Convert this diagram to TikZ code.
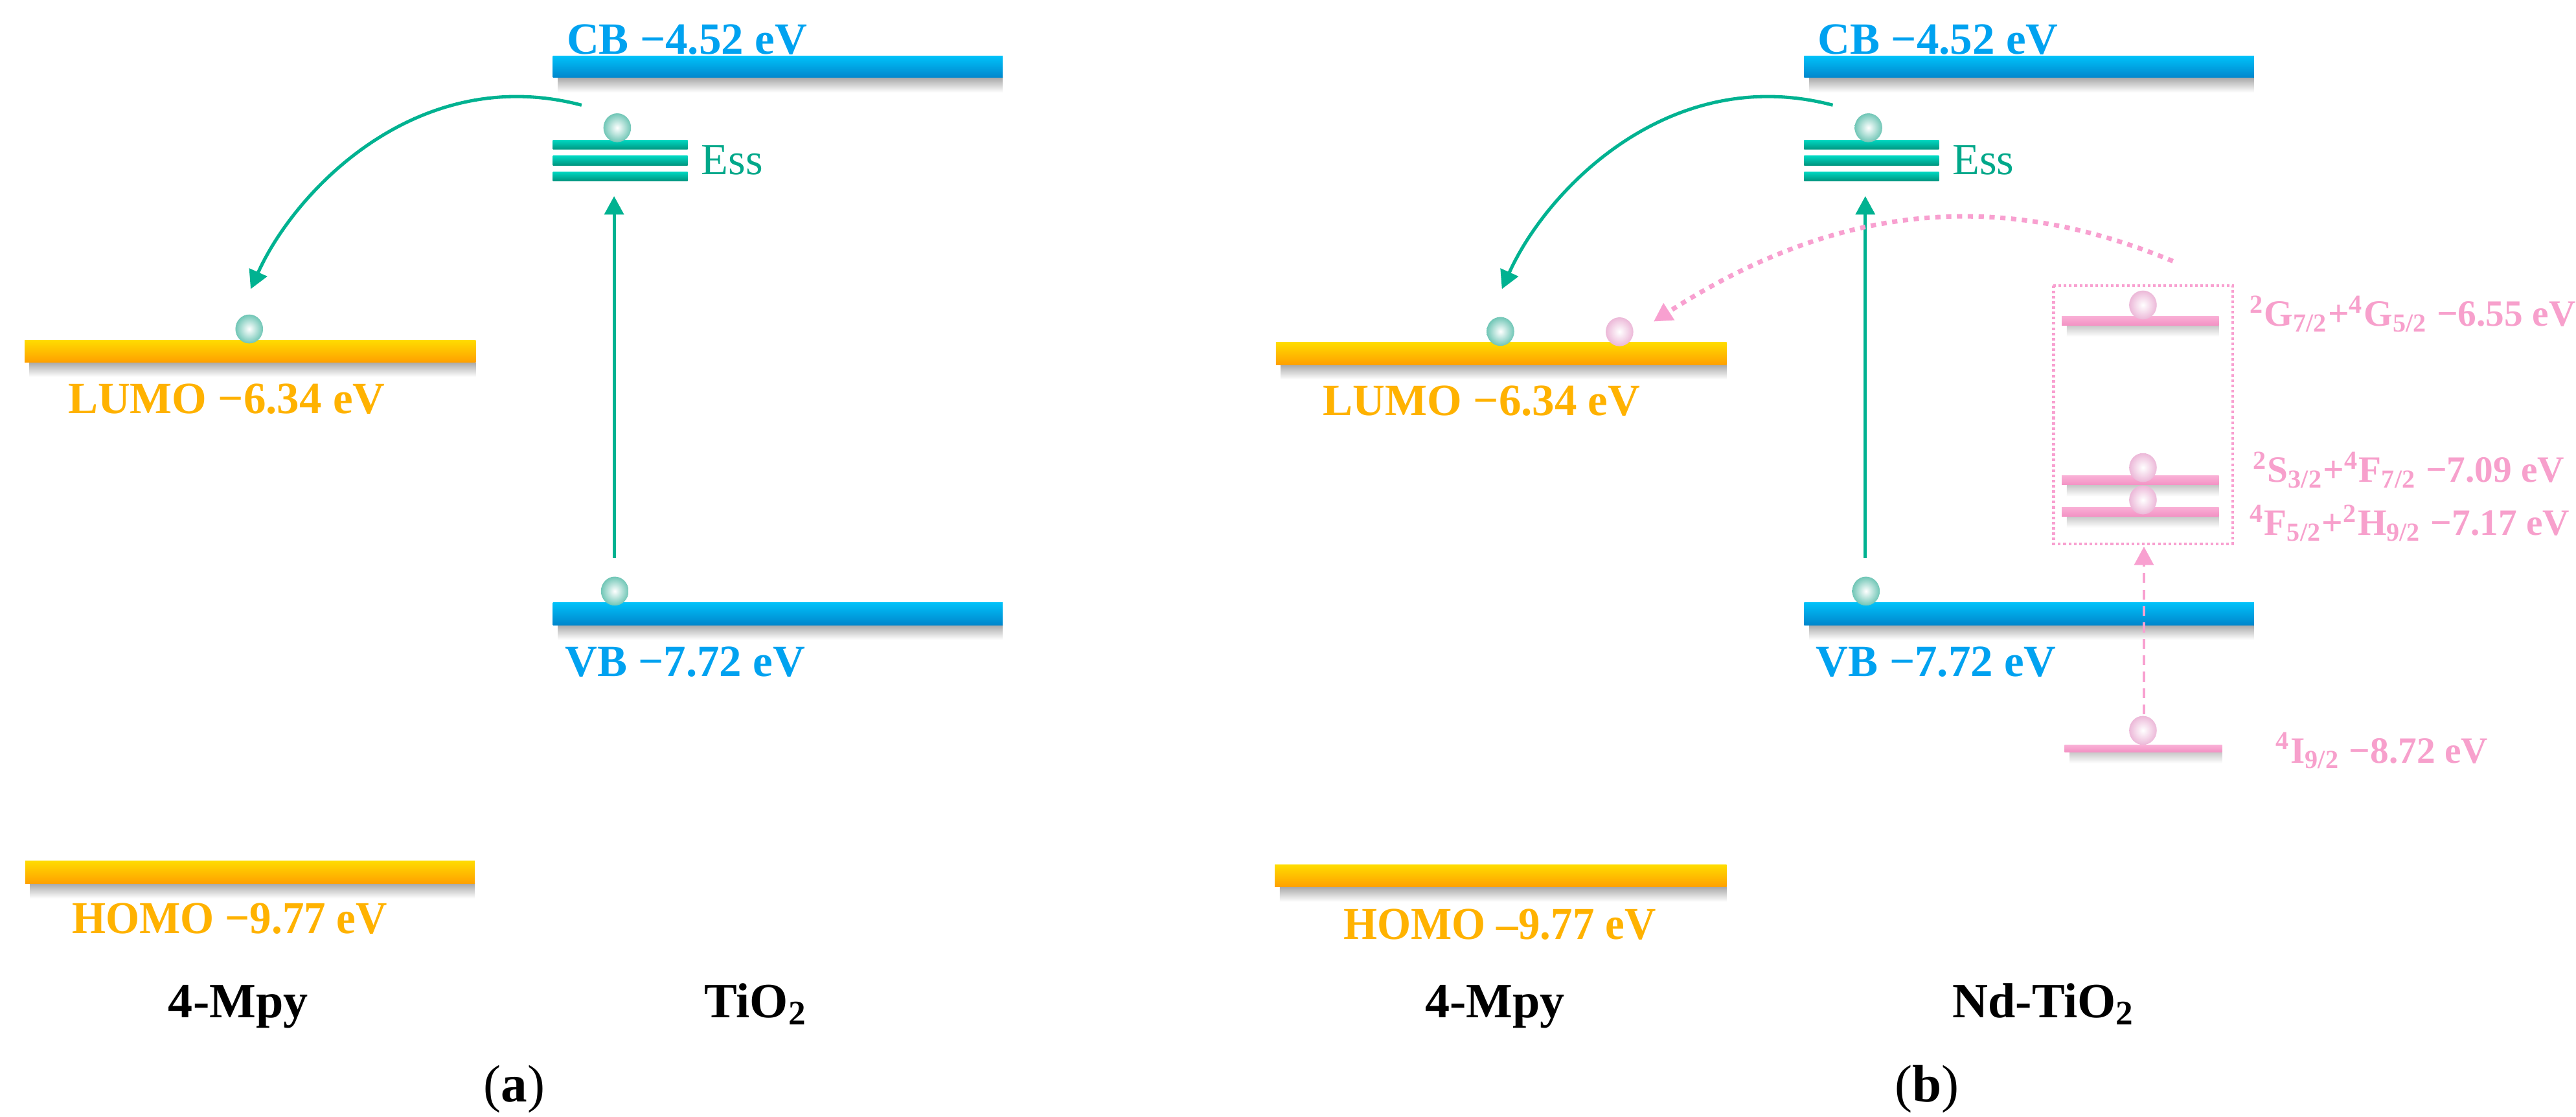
\documentclass[tikz,border=0pt]{standalone}
\usepackage{fontspec}
\setmainfont{Liberation Serif}
\newfontfamily\condserif[FakeStretch=0.95]{Liberation Serif}
\usetikzlibrary{arrows.meta,shapes.geometric}

\definecolor{cbblue}{RGB}{0,162,240}
\definecolor{bluetop}{RGB}{0,194,250}
\definecolor{bluebot}{RGB}{0,134,204}
\definecolor{yeltop}{RGB}{255,220,0}
\definecolor{yelbot}{RGB}{255,160,0}
\definecolor{orangetxt}{RGB}{255,178,0}
\definecolor{tealtop}{RGB}{0,216,194}
\definecolor{tealbot}{RGB}{0,150,128}
\definecolor{tealtxt}{RGB}{0,168,138}
\definecolor{tealarr}{RGB}{0,178,145}
\definecolor{pinktop}{RGB}{249,176,214}
\definecolor{pinkbot}{RGB}{243,146,196}
\definecolor{pinktxt}{RGB}{247,160,204}
\definecolor{pinkline}{RGB}{248,160,208}
\definecolor{eteal}{RGB}{112,198,182}
\definecolor{epink}{RGB}{236,184,216}

\newcommand\ebar[6]{%
  \shade[top color=black!34,bottom color=white] ({#1+3},{#4}) rectangle ({#3},{#4+9});
  \shade[top color=#5,bottom color=#6] (#1,#2) rectangle (#3,#4);}
\newcommand\pbar[4]{%
  \shade[top color=black!22,bottom color=white] ({#1+3},{#4}) rectangle ({#3},{#4+7});
  \shade[top color=pinktop,bottom color=pinkbot] (#1,#2) rectangle (#3,#4);}
\newcommand\essbars[1]{%
  \shade[top color=tealtop,bottom color=tealbot] ({#1},85.2) rectangle ({#1+82},91);
  \shade[top color=tealtop,bottom color=tealbot] ({#1},94.9) rectangle ({#1+82},100.6);
  \shade[top color=tealtop,bottom color=tealbot] ({#1},104.5) rectangle ({#1+82},110.1);}

\tikzset{
  lbl/.style={inner sep=0pt,anchor=base west,font=\fontsize{13.6}{16}\selectfont\bfseries},
  bluelbl/.style={lbl,text=cbblue},
  orlbl/.style={lbl,text=orangetxt},
  homolbl/.style={inner sep=0pt,anchor=base west,text=orangetxt,font=\fontsize{13.9}{16}\selectfont\condserif\bfseries},
  esslbl/.style={inner sep=0pt,anchor=base west,text=tealtxt,font=\fontsize{13.5}{16}\selectfont},
  pinklbl/.style={inner sep=0pt,anchor=base west,text=pinktxt,font=\fontsize{11.3}{13}\selectfont\bfseries},
  namelbl/.style={inner sep=0pt,anchor=base,font=\fontsize{15}{18}\selectfont\bfseries},
  panellbl/.style={inner sep=0pt,anchor=base,font=\fontsize{16}{19}\selectfont},
  elec/.style={ellipse,minimum width=8.4pt,minimum height=8.8pt,inner sep=0pt,inner color=white},
  telec/.style={elec,outer color=eteal},
  pelec/.style={elec,outer color=epink},
  tarr/.style={draw=tealarr,line width=1pt,-{Triangle[length=5.6pt,width=5.8pt]}},
  pdot/.style={draw=pinkline,line width=1.4pt,dash pattern=on 1.6pt off 1.7pt,-{Triangle[length=5.6pt,width=5.8pt]}},
  pdash/.style={draw=pinkline,line width=0.9pt,dash pattern=on 3pt off 2pt,-{Triangle[length=5.6pt,width=5.8pt]}},
  pbox/.style={draw=pinkline,line width=0.8pt,dash pattern=on 0.8pt off 0.8pt}
}

\begin{document}
\begin{tikzpicture}[x=0.5pt,y=-0.5pt]
\useasboundingbox (0,0) rectangle (1568,680);
\fill[white] (0,0) rectangle (1568,680);

% ---------------- panel (a) ----------------
\ebar{336.6}{34}{610.4}{47.3}{bluetop}{bluebot}
\ebar{336.6}{366.7}{610.4}{380.5}{bluetop}{bluebot}
\ebar{15}{207}{289.5}{220.5}{yeltop}{yelbot}
\ebar{15.3}{524}{289}{538}{yeltop}{yelbot}
\essbars{336.6}

\node[bluelbl] (cba) at (344.6,32.9) {CB −4.52 eV};
\node[bluelbl] (vba) at (343.5,411.7) {VB −7.72 eV};
\node[orlbl] (lumoa) at (41,251.6) {LUMO −6.34 eV};
\node[homolbl] (homoa) at (43.5,568.5) {HOMO −9.77 eV};
\node[esslbl] (essa) at (426.5,106.2) {Ess};
\node[namelbl] (mpya) at (145,619.7) {4-Mpy};
\node[namelbl] (tio2a) at (460,619.7) {TiO\textsubscript{2}};
\node[panellbl] (capa) at (313,671) {(\textbf{a})};

\node[telec] (ea1) at (375.7,77.8) {};
\node[telec] (ea2) at (151.7,200.3) {};
\node[telec] (ea3) at (374.2,359.9) {};

\coordinate (va0) at (373.8,339.8);
\coordinate (va1) at (373.8,119.4);
\coordinate (ca0) at (354,64);
\coordinate (ca1) at (152.6,176);
\draw[tarr] (va0) -- (va1);
\draw[tarr] (ca0) .. controls (255,38) and (180,115) .. (ca1);

% ---------------- panel (b) ----------------
\ebar{1098.2}{34}{1372}{47.3}{bluetop}{bluebot}
\ebar{1098.2}{366.7}{1372}{380.5}{bluetop}{bluebot}
\ebar{776.6}{208.5}{1051}{222}{yeltop}{yelbot}
\ebar{776}{526.5}{1051}{540}{yeltop}{yelbot}
\essbars{1098.2}

\pbar{1255}{192.5}{1350.6}{198}
\pbar{1255}{289.7}{1350.6}{295.3}
\pbar{1255}{308.8}{1350.6}{314.3}
\pbar{1256.7}{453.7}{1352.6}{457.8}
\draw[pbox] (1250,173.7) rectangle (1359,331);

\node[bluelbl] (cbb) at (1106.2,32.9) {CB −4.52 eV};
\node[bluelbl] (vbb) at (1105.1,411.7) {VB −7.72 eV};
\node[orlbl] (lumob) at (805,253) {LUMO −6.34 eV};
\node[homolbl] (homob) at (817.5,572) {HOMO –9.77 eV};
\node[esslbl] (essb) at (1188.1,106.2) {Ess};
\node[namelbl] (mpyb) at (910,619.7) {4-Mpy};
\node[namelbl] (ndtio2) at (1244,619.7) {Nd-TiO\textsubscript{2}};
\node[panellbl] (capb) at (1173,671) {(\textbf{b})};

\node[pinklbl] (p1) at (1369,198.7) {\textsuperscript{2}G\textsubscript{7/2}+\textsuperscript{4}G\textsubscript{5/2} −6.55 eV};
\node[pinklbl] (p2) at (1371,293.7) {\textsuperscript{2}S\textsubscript{3/2}+\textsuperscript{4}F\textsubscript{7/2} −7.09 eV};
\node[pinklbl] (p3) at (1369,326) {\textsuperscript{4}F\textsubscript{5/2}+\textsuperscript{2}H\textsubscript{9/2} −7.17 eV};
\node[pinklbl] (p4) at (1385,464.5) {\textsuperscript{4}I\textsubscript{9/2} −8.72 eV};

\node[telec] (eb1) at (1137.3,77.8) {};
\node[telec] (eb2) at (913.3,201.8) {};
\node[pelec] (eb3) at (985.8,202) {};
\node[telec] (eb4) at (1135.8,359.9) {};
\node[pelec] (ep1) at (1304.4,185.7) {};
\node[pelec] (ep2) at (1304.4,284.7) {};
\node[pelec] (ep3) at (1304.4,304.4) {};
\node[pelec] (ep4) at (1304.4,444.7) {};

\coordinate (vb0) at (1135.4,339.8);
\coordinate (vb1) at (1135.4,119.4);
\coordinate (cb0) at (1115.6,64);
\coordinate (cb1) at (914.2,176);
\draw[tarr] (vb0) -- (vb1);
\draw[tarr] (cb0) .. controls (1016.6,38) and (941.6,115) .. (cb1);

\coordinate (pd0) at (1322.6,159);
\coordinate (pd1) at (1006.5,195.8);
\draw[pdot] (pd0) .. controls (1230,120.5) and (1130,116) .. (pd1);
\coordinate (pu0) at (1305,435);
\coordinate (pu1) at (1305,332.8);
\draw[pdash] (pu0) -- (pu1);
\end{tikzpicture}
\end{document}
